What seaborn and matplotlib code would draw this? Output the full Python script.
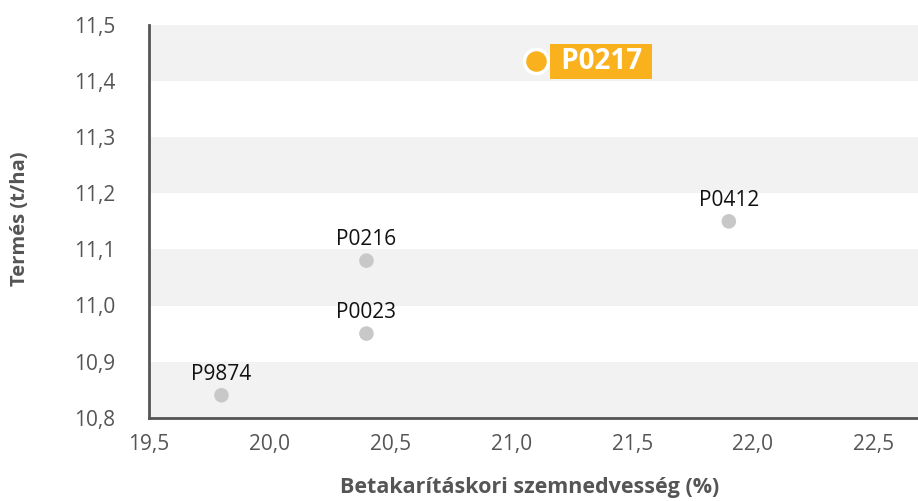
import matplotlib
matplotlib.use("Agg")
import matplotlib.pyplot as plt
import seaborn as sns
import pandas as pd

names = ["P9874", "P0023", "P0216", "P0412", "P0217"]
moisture = [19.8, 20.4, 20.4, 21.9, 21.1]
yield_t = [10.84, 10.95, 11.08, 11.15, 11.435]
highlight = "P0217"

x_ticks = [19.5, 20.0, 20.5, 21.0, 21.5, 22.0, 22.5]
y_ticks = [10.8, 10.9, 11.0, 11.1, 11.2, 11.3, 11.4, 11.5]

sns.set_style("white")
plt.rcParams["font.family"] = ["Open Sans", "DejaVu Sans"]

df = pd.DataFrame({"name": names, "x": moisture, "y": yield_t})
df_other = df[df["name"] != highlight]
df_hi = df[df["name"] == highlight]

fig = plt.figure(figsize=(9.18, 5.01), dpi=100)
ax = fig.add_axes([149/918, 1 - 417.7/501, 769/918, 392.7/501])

# alternating bands
for i in range(0, len(y_ticks) - 1, 2):
    ax.axhspan(y_ticks[i], y_ticks[i + 1], color="#F2F2F2", zorder=0, lw=0)

GREY = "#C8C8C8"
ORANGE = "#F9B21E"
AX = "#555555"

sns.scatterplot(data=df_other, x="x", y="y", ax=ax, color=GREY, s=110,
                edgecolor="none", zorder=3, legend=False)
sns.scatterplot(data=df_hi, x="x", y="y", ax=ax, color=ORANGE, s=300,
                edgecolor="white", linewidth=2.5, zorder=4, legend=False)

for _, r in df_other.iterrows():
    ax.annotate(r["name"], (r["x"], r["y"]), xytext=(0, 7.5), textcoords="offset points",
                ha="center", va="bottom", fontsize=15, color="#111111", zorder=5)

for _, r in df_hi.iterrows():
    ax.annotate(" " + r["name"] + " ", (r["x"], r["y"]), xytext=(13, 0), textcoords="offset points",
                ha="left", va="center", fontsize=20, fontweight="bold", color="white",
                bbox=dict(boxstyle="square,pad=0.12", fc=ORANGE, ec="none"), zorder=5)

ax.set_xlim(19.5, 22.683)
ax.set_ylim(10.8, 11.5)
ax.set_xticks(x_ticks)
ax.set_yticks(y_ticks)
ax.set_xticklabels([f"{v:.1f}".replace(".", ",") for v in x_ticks])
ax.set_yticklabels([f"{v:.1f}".replace(".", ",") for v in y_ticks])

for s in ["top", "right"]:
    ax.spines[s].set_visible(False)
for s in ["left", "bottom"]:
    ax.spines[s].set_color(AX)
    ax.spines[s].set_linewidth(2)
ax.tick_params(axis="both", direction="out", length=8, width=1.3, color=AX,
               labelcolor=AX, labelsize=15)
ax.tick_params(axis="y", pad=16)
ax.tick_params(axis="x", pad=4)

ax.set_xlabel("Betakarításkori szemnedvesség (%)", fontsize=15.5, fontweight="bold", color=AX)
ax.set_ylabel("Termés (t/ha)", fontsize=14.5, fontweight="bold", color=AX)
ax.xaxis.set_label_coords((530 - 149) / 769, -(488 - 417.7) / 392.7)
ax.yaxis.set_label_coords((20 - 149) / 769, (417.7 - 219) / 392.7)
ax.xaxis.label.set_va("center")
ax.yaxis.label.set_va("center")

fig.savefig("out.png", dpi=100)
